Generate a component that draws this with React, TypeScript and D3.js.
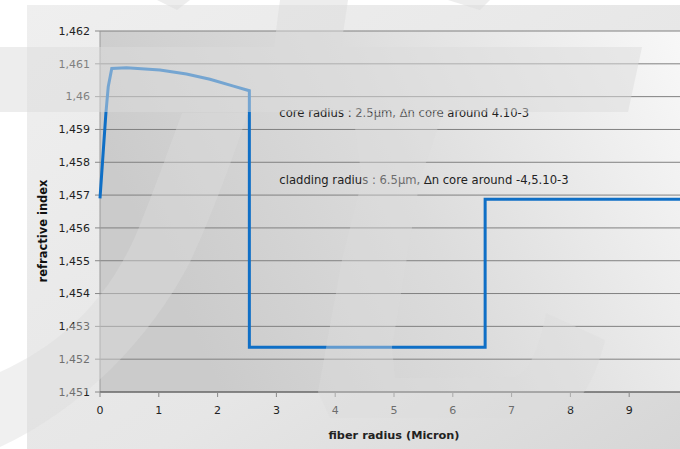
import React from 'react';
import * as d3 from 'd3';

// Data (fiber radius in micron, refractive index)
const radius = [0, 0.1, 0.14, 0.2, 0.45, 1.02, 1.47, 1.87, 2.27, 2.54, 2.54, 6.55, 6.55, 10];
const refIndex = [1.4569, 1.45949, 1.4603, 1.46086, 1.46088, 1.46081, 1.46069, 1.46053, 1.46032, 1.46018, 1.45236, 1.45236, 1.45687, 1.45687];
const yTicks = [1.451, 1.452, 1.453, 1.454, 1.455, 1.456, 1.457, 1.458, 1.459, 1.46, 1.461, 1.462];
const xTicks = [0, 1, 2, 3, 4, 5, 6, 7, 8, 9];
const notes = [
  'core radius : 2.5µm, ∆n core around 4.10-3',
  'cladding radius : 6.5µm, ∆n core around -4,5.10-3',
];
const noteX = [3.05, 3.05];
const noteY = [1.45937, 1.45735];
const xTitle = 'fiber radius (Micron)';
const yTitle = 'refractive index';

const W = 680;
const H = 449;
const FONT = '"DejaVu Sans", Verdana, sans-serif';

export default function App() {
  const x = d3.scaleLinear().domain([0, 10]).range([100, 688]);
  const y = d3.scaleLinear().domain([1.451, 1.462]).range([392, 31]);
  const pts: [number, number][] = radius.map((r, i) => [r, refIndex[i]]);
  const line = d3
    .line<[number, number]>()
    .x((d) => x(d[0]))
    .y((d) => y(d[1]));
  const fmt = (v: number) => d3.format('.3~f')(v).replace('.', ',');
  const x0 = x(0);
  const y0 = y(1.451);
  const yTop = y(1.462);

  return (
    <svg
      width={W}
      height={H}
      style={{ position: 'absolute', left: 0, top: 0, background: '#ffffff' }}
      fontFamily={FONT}
    >
      <defs>
        <linearGradient id="outerBg" x1="0" y1="0" x2="1" y2="1">
          <stop offset="0" stopColor="#efefef" />
          <stop offset="0.6" stopColor="#e6e6e6" />
          <stop offset="1" stopColor="#d6d6d6" />
        </linearGradient>
        <linearGradient id="plotBg" x1="0" y1="0.3" x2="1" y2="0">
          <stop offset="0" stopColor="#cbcbcb" />
          <stop offset="0.45" stopColor="#dcdcdc" />
          <stop offset="1" stopColor="#f8f8f8" />
        </linearGradient>
      </defs>
      <rect x={27} y={5} width={W - 27} height={H - 5} fill="url(#outerBg)" />
      <rect x={x0} y={yTop} width={W - x0} height={y0 - yTop} fill="url(#plotBg)" />

      {/* gridlines */}
      {yTicks.map((t) => (
        <line key={'g' + t} x1={x0} x2={W} y1={y(t)} y2={y(t)} stroke="#808080" strokeWidth={1} />
      ))}
      {/* axes */}
      <line x1={x0} x2={x0} y1={yTop} y2={y0} stroke="#9a9a9a" strokeWidth={1} />
      <line x1={x0} x2={W} y1={y0} y2={y0} stroke="#5a5a5a" strokeWidth={1} />
      {yTicks.map((t) => (
        <g key={'yt' + t}>
          <line x1={x0 - 5} x2={x0} y1={y(t)} y2={y(t)} stroke="#888" />
          <text x={x0 - 10} y={y(t)} dy="0.35em" textAnchor="end" fontSize={11} fill="#222">
            {fmt(t)}
          </text>
        </g>
      ))}
      {xTicks.map((t) => (
        <g key={'xt' + t}>
          <line x1={x(t)} x2={x(t)} y1={y0} y2={y0 + 5} stroke="#888" />
          <text x={x(t)} y={y0 + 22} textAnchor="middle" fontSize={11} fill="#222">
            {t}
          </text>
        </g>
      ))}

      {/* data line */}
      <path
        d={line(pts) || ''}
        fill="none"
        stroke="#0f6fc6"
        strokeWidth={3}
        strokeLinejoin="miter"
      />

      {/* annotations */}
      {notes.map((n, i) => (
        <text key={'n' + i} x={x(noteX[i])} y={y(noteY[i])} fontSize={11.6} fill="#222">
          {n}
        </text>
      ))}

      {/* axis titles */}
      <text x={394} y={439} textAnchor="middle" fontSize={11.3} fontWeight="bold" fill="#222">
        {xTitle}
      </text>
      <text
        transform={`translate(47,${231}) rotate(-90)`}
        textAnchor="middle"
        fontSize={11.5}
        fontWeight="bold"
        fill="#111"
      >
        {yTitle}
      </text>

      {/* watermark overlay */}
      <g fill="#dcdcdc" pointerEvents="none">
        <path fillOpacity={0.5} d="M0,47 L642,47 L628,112 L0,112 Z" />
        <path fillOpacity={0.5} d="M280,0 L348,0 L341,47 L274,47 Z" />
        <path fillOpacity={0.5} d="M157,0 L190,0 L177,10 Z" />
        <path fillOpacity={0.5} d="M448,0 L490,0 L480,10 Z" />
        <path fillOpacity={0.42} d="M0,372 C60,345 110,300 140,225 C160,175 172,140 182,113 L248,113 C232,160 214,210 190,262 C150,340 80,410 0,447 Z" />
        <path fillOpacity={0.4} d="M372,113 L353,113 L362,180 L342,260 L318,392 L330,418 L560,418 C585,400 598,370 605,340 L546,313 C540,345 530,372 515,377 L395,378 L392,347 L420,180 L443,113 Z" />
      </g>
    </svg>
  );
}
